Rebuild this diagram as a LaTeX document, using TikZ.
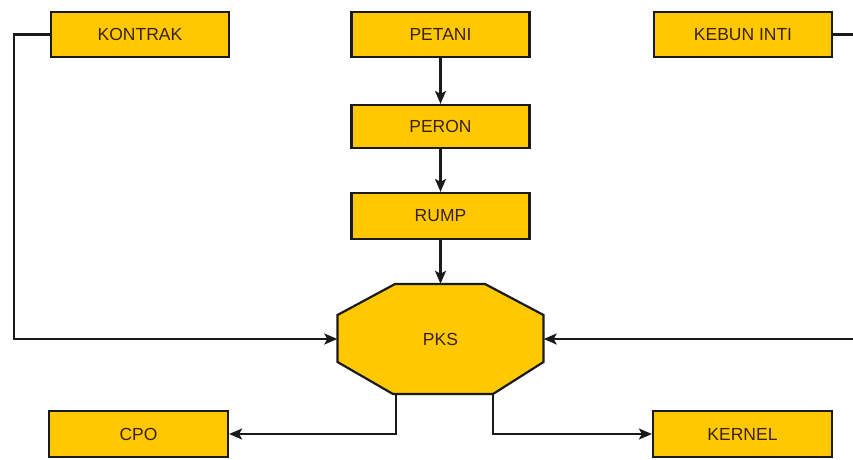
\documentclass[tikz,border=0pt]{standalone}
\usepackage{fontspec}
\setmainfont{Liberation Sans}
\usetikzlibrary{arrows.meta}
\definecolor{boxfill}{HTML}{FFC800}
\definecolor{boxtext}{HTML}{3A2208}
\definecolor{linecol}{HTML}{1A1A1A}
\begin{document}
\begin{tikzpicture}[x=1pt,y=-1pt,
  box/.style={draw=linecol,line width=2.2pt,fill=boxfill,minimum width=178pt,minimum height=45pt,inner sep=0pt,
    text=boxtext,font=\fontsize{17.5}{20}\selectfont},
  conn/.style={draw=linecol,line width=2.2pt,-{Stealth[length=13pt,width=11pt,inset=3pt]}}]
\useasboundingbox (0,0) rectangle (853,459);
\node[box] (kontrak) at (140,34.5) {KONTRAK};
\node[box] (petani) at (440.5,34.5) {PETANI};
\node[box] (kebun) at (743,34.5) {KEBUN INTI};
\node[box,minimum height=43pt] (peron) at (440.5,126.5) {PERON};
\node[box,minimum height=46pt] (rump) at (440.5,216) {RUMP};
\node[box,minimum width=179pt,minimum height=46pt] (cpo) at (138.5,434) {CPO};
\node[box,minimum width=179pt,minimum height=46pt] (kernel) at (742.5,434) {KERNEL};
% PKS octagon
\node[minimum width=206pt,minimum height=110pt,inner sep=0pt] (pks) at (440.5,339) {};
\filldraw[draw=linecol,fill=boxfill,line width=2.2pt,line join=miter]
  (395,284) -- (485,284) -- (543.5,315) -- (543.5,362) -- (493,394) -- (393,394) -- (337.5,362) -- (337.5,315) -- cycle;
\node[text=boxtext,font=\fontsize{17.5}{20}\selectfont] (pkslabel) at (pks.center) {PKS};
\coordinate (lc) at (14,34.5);
\coordinate (rc) at (860,34.5);
\coordinate (bl) at (396,394);
\coordinate (br) at (493,394);
% connectors
\draw[conn] (petani.south) -- (peron.north);
\draw[conn] (peron.south) -- (rump.north);
\draw[conn] (rump.south) -- (pks.north);
\draw[conn] (kontrak.west) -- (lc) |- (pks.west);
\draw[conn] (kebun.east) -- (rc) |- (pks.east);
\draw[conn] (bl) |- (cpo.east);
\draw[conn] (br) |- (kernel.west);
\end{tikzpicture}
\end{document}
